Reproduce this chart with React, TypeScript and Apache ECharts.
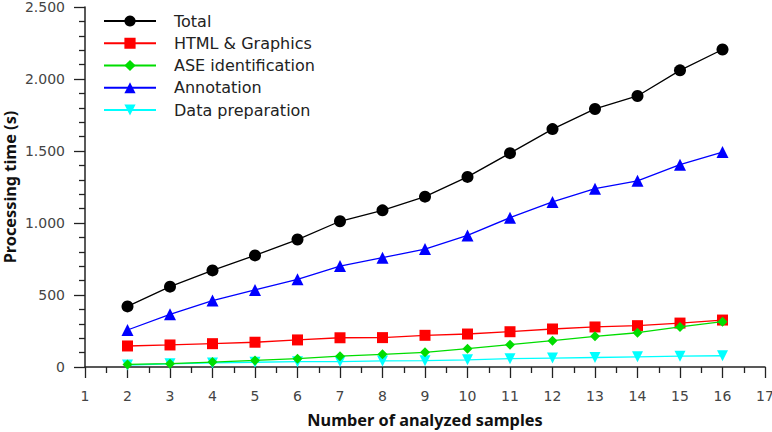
import React, { useEffect, useRef } from "react";
import * as echarts from "echarts";

const samples = [2, 3, 4, 5, 6, 7, 8, 9, 10, 11, 12, 13, 14, 15, 16];
const total = [421, 558, 671, 775, 885, 1012, 1088, 1183, 1320, 1485, 1652, 1792, 1882, 2060, 2205];
const htmlGraphics = [146, 153, 162, 172, 188, 203, 204, 220, 229, 245, 264, 278, 287, 305, 326];
const aseIdent = [18, 23, 34, 46, 58, 75, 88, 102, 127, 155, 183, 213, 238, 278, 315];
const annotation = [257, 366, 461, 535, 609, 701, 759, 819, 914, 1037, 1146, 1238, 1293, 1405, 1493];
const dataPrep = [14, 22, 28, 33, 37, 38, 42, 44, 50, 58, 62, 66, 71, 75, 78];
const seriesNames = ["Total", "HTML & Graphics", "ASE identification", "Annotation", "Data preparation"];

const FONT = "DejaVu Sans";
const TITLE_FONT = "Noto Sans";

function fmtY(v: number): string {
  if (v >= 1000) {
    const t = Math.floor(v / 1000);
    const r = v % 1000;
    return `${t}.${String(r).padStart(3, "0")}`;
  }
  return String(v);
}

export default function App() {
  const ref = useRef<HTMLDivElement>(null);
  useEffect(() => {
    if (!ref.current) return;
    const chart = echarts.init(ref.current, undefined, { renderer: "svg" });
    const pts = (vals: number[]) => samples.map((x, i) => [x, vals[i]]);
    const mk = (name: string, vals: number[], color: string, symbol: string, size: number, rotate = 0, z = 2) => ({
      name,
      type: "line",
      data: pts(vals),
      symbol,
      symbolSize: size,
      symbolRotate: rotate,
      z,
      lineStyle: { color, width: 1.3 },
      itemStyle: { color },
      emphasis: { disabled: true },
    });
    chart.setOption({
      animation: false,
      grid: { left: 85, right: 7, top: 7, bottom: 65, outerBoundsMode: "none" },
      legend: {
        orient: "vertical",
        left: 98,
        top: 8,
        itemWidth: 52,
        itemHeight: 14,
        itemGap: 6.25,
        data: seriesNames,
        textStyle: { fontFamily: FONT, fontSize: 16, color: "#222", padding: [0, 0, 0, 13] },
      },
      xAxis: {
        type: "value",
        min: 1,
        max: 17,
        interval: 1,
        name: "Number of analyzed samples",
        nameLocation: "middle",
        nameGap: 45,
        nameMoveOverlap: false,
        nameTextStyle: { fontFamily: TITLE_FONT, fontSize: 16.3, fontWeight: "bold", color: "#111" },
        axisLine: { show: true, lineStyle: { color: "#222", width: 1.5 } },
        axisTick: { show: true, length: 11, lineStyle: { color: "#222", width: 1.3 } },
        minorTick: { show: true, splitNumber: 2, length: 6, lineStyle: { color: "#222", width: 1.3 } },
        axisLabel: { fontFamily: FONT, fontSize: 14, color: "#444", margin: 22 },
        splitLine: { show: false },
      },
      yAxis: {
        type: "value",
        min: 0,
        max: 2500,
        interval: 500,
        name: "Processing time (s)",
        nameLocation: "middle",
        nameGap: 67,
        nameMoveOverlap: false,
        nameTextStyle: { fontFamily: TITLE_FONT, fontSize: 16.3, fontWeight: "bold", color: "#111" },
        axisLine: { show: true, lineStyle: { color: "#222", width: 1.5 } },
        axisTick: { show: true, length: 11, lineStyle: { color: "#222", width: 1.3 } },
        minorTick: { show: true, splitNumber: 5, length: 6, lineStyle: { color: "#222", width: 1.3 } },
        axisLabel: { fontFamily: FONT, fontSize: 14, color: "#444", margin: 20, formatter: (v: number) => fmtY(v) },
        splitLine: { show: false },
      },
      series: [
        mk(seriesNames[0], total, "#000000", "circle", 12),
        mk(seriesNames[1], htmlGraphics, "#ff0000", "rect", 11),
        mk(seriesNames[2], aseIdent, "#00dd00", "diamond", 10, 0, 3),
        mk(seriesNames[3], annotation, "#0000ff", "triangle", 12),
        mk(seriesNames[4], dataPrep, "#00ffff", "triangle", 11, 180),
      ],
    });
    return () => chart.dispose();
  }, []);
  return <div ref={ref} style={{ width: 772, height: 432, position: "absolute", left: 0, top: 0 }} />;
}
